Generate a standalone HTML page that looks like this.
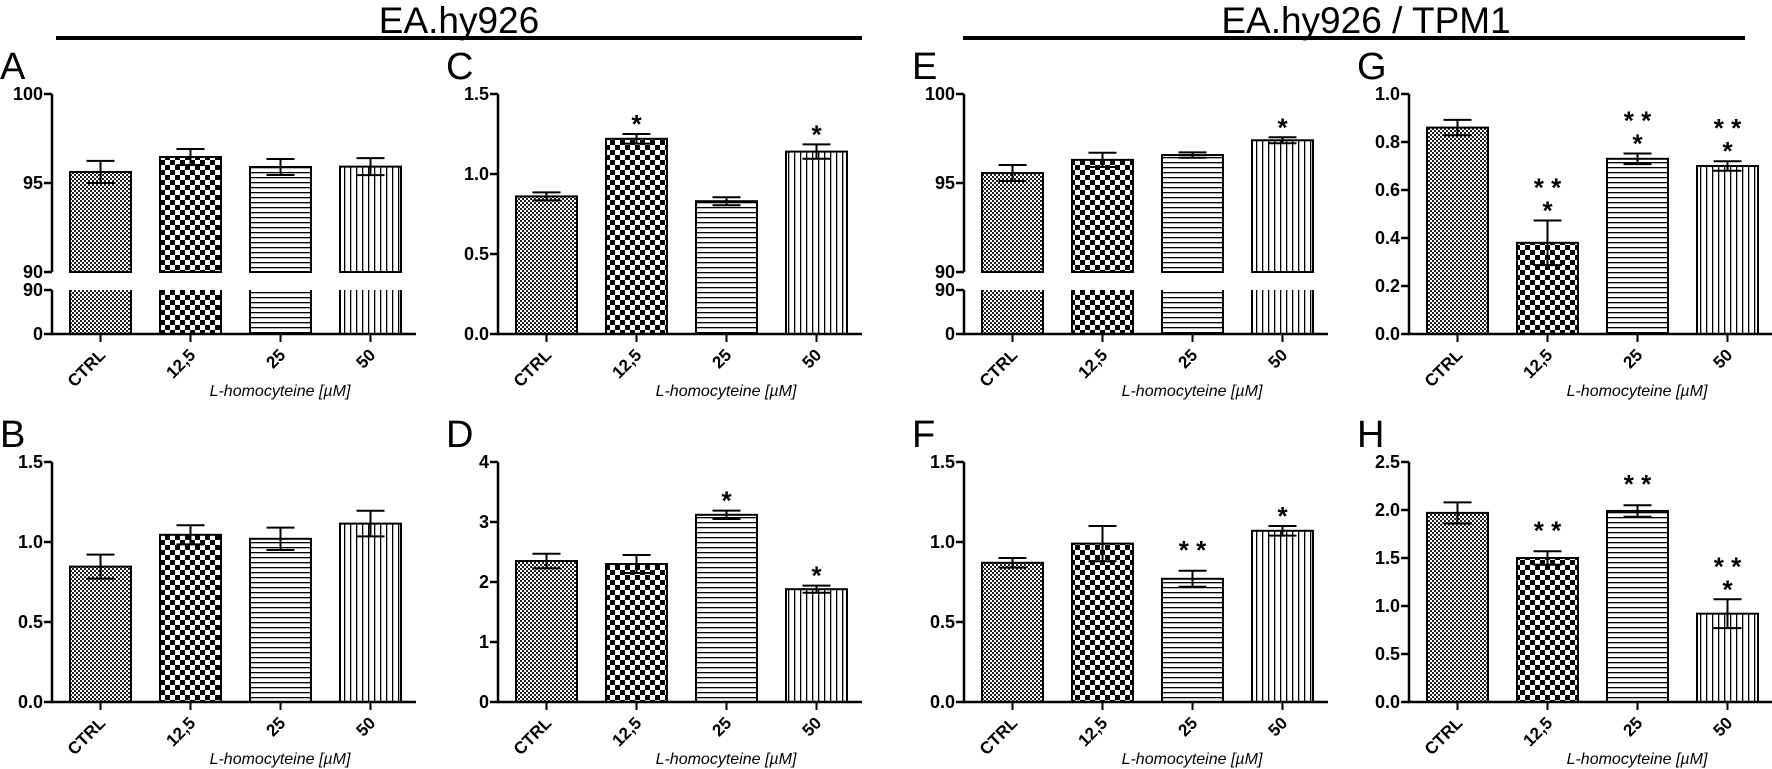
<!DOCTYPE html>
<html><head><meta charset="utf-8"><style>
body{margin:0;background:#fff}
svg{display:block;font-family:"Liberation Sans",Arial,sans-serif}
</style></head><body>
<svg id="fig" width="1772" height="769" viewBox="0 0 1772 769">
<defs>
<pattern id="pFine" width="4" height="4" patternUnits="userSpaceOnUse"><rect width="4" height="4" fill="#fff"/><rect width="2" height="2" fill="#222"/><rect x="2" y="2" width="2" height="2" fill="#222"/></pattern>
<pattern id="pCoarse" width="10" height="10" patternUnits="userSpaceOnUse"><rect width="10" height="10" fill="#fff"/><rect width="5" height="5" fill="#000"/><rect x="5" y="5" width="5" height="5" fill="#000"/></pattern>
<pattern id="pHoriz" width="10" height="5" patternUnits="userSpaceOnUse"><rect width="10" height="5" fill="#fff"/><rect y="2" width="10" height="1.3" fill="#000"/></pattern>
<pattern id="pVert" width="6" height="10" patternUnits="userSpaceOnUse"><rect width="6" height="10" fill="#fff"/><rect x="2" width="1.3" height="10" fill="#000"/></pattern>
</defs>
<text x="459" y="33" font-size="37" text-anchor="middle">EA.hy926</text>
<rect x="56" y="36" width="806" height="4" fill="#000"/>
<text x="1366" y="33" font-size="37" text-anchor="middle">EA.hy926 / TPM1</text>
<rect x="963" y="36" width="782" height="4" fill="#000"/>
<g id="panels"></g>
</svg>
<script>
const categories = ["CTRL","12,5","25","50"];
const A_vals = [95.62, 96.46, 95.9, 95.92];
const A_errs = [0.62, 0.45, 0.45, 0.48];
const A_stars = ["", "", "", ""];
const B_vals = [0.846, 1.045, 1.02, 1.115];
const B_errs = [0.075, 0.06, 0.07, 0.08];
const B_stars = ["", "", "", ""];
const C_vals = [0.86, 1.22, 0.83, 1.14];
const C_errs = [0.025, 0.03, 0.025, 0.045];
const C_stars = ["", "*", "", "*"];
const D_vals = [2.35, 2.3, 3.12, 1.88];
const D_errs = [0.12, 0.15, 0.07, 0.06];
const D_stars = ["", "", "*", "*"];
const E_vals = [95.56, 96.3, 96.57, 97.4];
const E_errs = [0.45, 0.4, 0.15, 0.17];
const E_stars = ["", "", "", "*"];
const F_vals = [0.87, 0.99, 0.77, 1.07];
const F_errs = [0.03, 0.11, 0.05, 0.03];
const F_stars = ["", "", "**", "*"];
const G_vals = [0.86, 0.38, 0.73, 0.70];
const G_errs = [0.032, 0.093, 0.022, 0.02];
const G_stars = ["", "***", "***", "***"];
const H_vals = [1.97, 1.50, 1.99, 0.92];
const H_errs = [0.11, 0.07, 0.06, 0.15];
const H_stars = ["", "**", "**", "***"];
const ticksLinear15 = ["0.0","0.5","1.0","1.5"];
const ticksLinear4 = ["0","1","2","3","4"];
const ticksLinear1 = ["0.0","0.2","0.4","0.6","0.8","1.0"];
const ticksLinear25 = ["0.0","0.5","1.0","1.5","2.0","2.5"];

const NS="http://www.w3.org/2000/svg";
const root=document.getElementById('panels');
const fills=["url(#pFine)","url(#pCoarse)","url(#pHoriz)","url(#pVert)"];
function mk(tag,attrs,parent){const e=document.createElementNS(NS,tag);for(const k in attrs)e.setAttribute(k,attrs[k]);(parent||root).appendChild(e);return e;}

function panel(letter,ax,top,vals,errs,stars,ticks,broken){
  const zero=top+240, g=mk('g',{});
  
  
  const L=mk('text',{x:ax-52,y:top-15,'font-size':38},g);L.textContent=letter;
  
  
  let y;
  if(broken){
    y=v=>v>=90? (top+178)-(v-90)/10*178 : zero-(v/90)*44;
  } else {
    const max=parseFloat(ticks[ticks.length-1]);
    y=v=>zero-v/max*240;
  }
  vals.forEach((v,i)=>{
    const x=ax+18+i*90, w=61, cx=x+w/2;
    if(broken){
      const r1=mk('rect',{x:x,y:y(v),width:w,height:(top+178)-y(v),fill:fills[i],stroke:'#000','stroke-width':2},g);
      
      
      const r2=mk('rect',{x:x,y:top+196,width:w,height:44,fill:fills[i]},g);
      
      
      mk('line',{x1:x,x2:x,y1:top+196,y2:zero,stroke:'#000','stroke-width':2},g);
      mk('line',{x1:x+w,x2:x+w,y1:top+196,y2:zero,stroke:'#000','stroke-width':2},g);
    } else {
      const r=mk('rect',{x:x,y:y(v),width:w,height:zero-y(v),fill:fills[i],stroke:'#000','stroke-width':2},g);
      
      
    }
    const et=y(v+errs[i]), eb=y(v-errs[i]);
    const eg=mk('path',{d:`M${cx},${et}V${eb}M${cx-14},${et}H${cx+14}M${cx-14},${eb}H${cx+14}`,stroke:'#000','stroke-width':2,fill:'none'},g);
    
    
    const s=stars[i];
    if(s){
      let lines = s==="***"?["* *","*"]:(s==="**"?["* *"]:["*"]);
      let base = (s==="**") ? et-12 : et-1;
      for(let k=lines.length-1;k>=0;k--){
        const t=mk('text',{x:cx,y:base,'font-size':26,'text-anchor':'middle','font-weight':'bold'},g);
        t.textContent=lines[k];
        
        
        base-=23;
      }
    }
    mk('line',{x1:cx,x2:cx,y1:zero,y2:zero+8,stroke:'#000','stroke-width':2},g);
    const tl=mk('text',{x:cx+6,y:zero+22,'font-size':17,'font-weight':'bold','text-anchor':'end',transform:`rotate(-45 ${cx+6} ${zero+22})`},g);
    tl.textContent=categories[i];
    
    
  });
  mk('line',{x1:ax-1,x2:ax+364,y1:zero,y2:zero,stroke:'#000','stroke-width':2.5},g);
  if(broken){
    mk('line',{x1:ax,x2:ax,y1:top,y2:top+178,stroke:'#000','stroke-width':2.5},g);
    mk('line',{x1:ax,x2:ax,y1:top+196,y2:zero,stroke:'#000','stroke-width':2.5},g);
    [[100,top],[95,y(95)],[90,top+178],[90,top+196],[0,zero]].forEach(([lab,yy])=>{
      mk('line',{x1:ax-8,x2:ax,y1:yy,y2:yy,stroke:'#000','stroke-width':2.5},g);
      const t=mk('text',{x:ax-9,y:yy+6,'font-size':18,'font-weight':'bold','text-anchor':'end'},g);
      t.textContent=lab;
      
      
    });
  } else {
    mk('line',{x1:ax,x2:ax,y1:top,y2:zero,stroke:'#000','stroke-width':2.5},g);
    ticks.forEach(lab=>{
      const yy=y(parseFloat(lab));
      mk('line',{x1:ax-8,x2:ax,y1:yy,y2:yy,stroke:'#000','stroke-width':2.5},g);
      const t=mk('text',{x:ax-9,y:yy+6,'font-size':18,'font-weight':'bold','text-anchor':'end'},g);
      t.textContent=lab;
      
      
    });
  }
  const xt=mk('text',{x:ax+228,y:zero+62,'font-size':16,'font-style':'italic','text-anchor':'middle'},g);
  xt.textContent="L-homocyteine [µM]";
  
  
}
const AX=[52,498,964,1409];
panel("A",AX[0],94,A_vals,A_errs,A_stars,null,true);
panel("C",AX[1],94,C_vals,C_errs,C_stars,ticksLinear15,false);
panel("E",AX[2],94,E_vals,E_errs,E_stars,null,true);
panel("G",AX[3],94,G_vals,G_errs,G_stars,ticksLinear1,false);
panel("B",AX[0],462,B_vals,B_errs,B_stars,ticksLinear15,false);
panel("D",AX[1],462,D_vals,D_errs,D_stars,ticksLinear4,false);
panel("F",AX[2],462,F_vals,F_errs,F_stars,ticksLinear15,false);
panel("H",AX[3],462,H_vals,H_errs,H_stars,ticksLinear25,false);
</script>
</body></html>
